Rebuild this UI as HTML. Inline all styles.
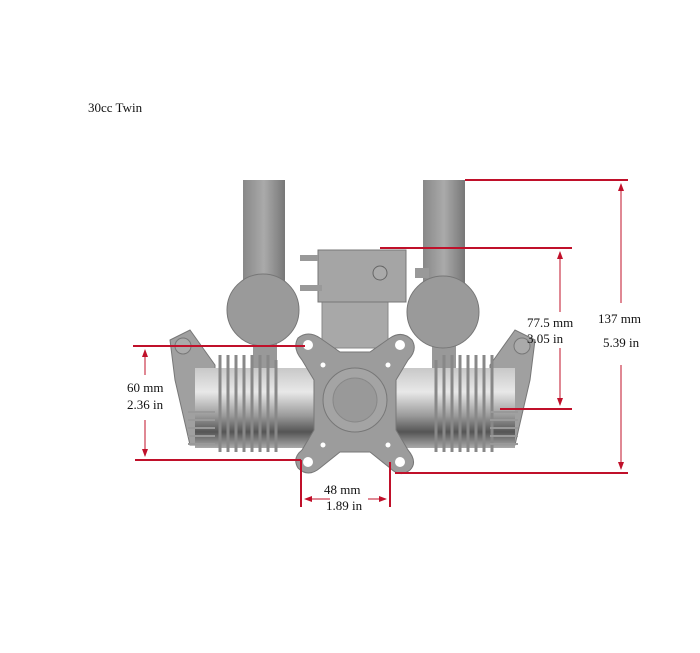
<!DOCTYPE html>
<html><head><style>
body{margin:0;background:#fff;}
svg{display:block;}
text{font-family:"Liberation Serif",serif;font-size:13px;fill:#111;}
</style></head><body>
<svg width="700" height="653" viewBox="0 0 700 653">
<defs>
<linearGradient id="cyl" x1="0" y1="0" x2="0" y2="1">
<stop offset="0" stop-color="#c8c8c8"/><stop offset="0.3" stop-color="#e8e8e8"/><stop offset="0.6" stop-color="#999"/><stop offset="0.8" stop-color="#555"/><stop offset="1" stop-color="#aaa"/></linearGradient>
<linearGradient id="pipe" x1="0" y1="0" x2="1" y2="0">
<stop offset="0" stop-color="#888"/><stop offset="0.5" stop-color="#aaa"/><stop offset="1" stop-color="#777"/></linearGradient>
<marker id="ar" markerWidth="8" markerHeight="8" refX="7" refY="4" orient="auto"><path d="M0,1 L8,4 L0,7z" fill="#c0102a"/></marker>
</defs>
<text x="88" y="112">30cc Twin</text>
<rect x="243" y="180" width="42" height="110" fill="url(#pipe)"/>
<rect x="423" y="180" width="42" height="110" fill="url(#pipe)"/>
<rect x="253" y="330" width="24" height="50" fill="#999"/>
<rect x="432" y="330" width="24" height="50" fill="#999"/>
<circle cx="263" cy="310" r="36" fill="#9a9a9a" stroke="#777"/>
<circle cx="443" cy="312" r="36" fill="#9a9a9a" stroke="#777"/>
<rect x="322" y="300" width="66" height="48" fill="#a8a8a8" stroke="#888"/>
<rect x="318" y="250" width="88" height="52" fill="#a5a5a5" stroke="#777"/>
<rect x="300" y="255" width="18" height="6" fill="#999"/>
<rect x="300" y="285" width="22" height="6" fill="#999"/>
<circle cx="380" cy="273" r="7" fill="#aaa" stroke="#666"/>
<rect x="415" y="268" width="14" height="10" fill="#999"/>
<path d="M170,340 L190,330 L215,365 L215,445 L190,445 L175,380z" fill="#a0a0a0" stroke="#777"/>
<path d="M535,340 L515,330 L490,365 L490,445 L515,445 L530,380z" fill="#a0a0a0" stroke="#777"/>
<circle cx="183" cy="346" r="8" fill="#aaa" stroke="#777"/>
<circle cx="522" cy="346" r="8" fill="#aaa" stroke="#777"/>
<rect x="195" y="368" width="320" height="80" fill="url(#cyl)"/>
<g stroke="#888" stroke-width="3">
<line x1="220" y1="355" x2="220" y2="452"/><line x1="228" y1="355" x2="228" y2="452"/><line x1="236" y1="355" x2="236" y2="452"/><line x1="244" y1="355" x2="244" y2="452"/><line x1="252" y1="355" x2="252" y2="452"/><line x1="260" y1="355" x2="260" y2="452"/><line x1="268" y1="355" x2="268" y2="452"/><line x1="276" y1="360" x2="276" y2="452"/>
<line x1="436" y1="360" x2="436" y2="452"/><line x1="444" y1="355" x2="444" y2="452"/><line x1="452" y1="355" x2="452" y2="452"/><line x1="460" y1="355" x2="460" y2="452"/><line x1="468" y1="355" x2="468" y2="452"/><line x1="476" y1="355" x2="476" y2="452"/><line x1="484" y1="355" x2="484" y2="452"/><line x1="492" y1="355" x2="492" y2="452"/>
</g>
<g stroke="#999" stroke-width="2">
<line x1="188" y1="412" x2="215" y2="412"/><line x1="188" y1="420" x2="215" y2="420"/><line x1="188" y1="428" x2="215" y2="428"/><line x1="188" y1="436" x2="215" y2="436"/><line x1="188" y1="444" x2="215" y2="444"/>
<line x1="490" y1="412" x2="518" y2="412"/><line x1="490" y1="420" x2="518" y2="420"/><line x1="490" y1="428" x2="518" y2="428"/><line x1="490" y1="436" x2="518" y2="436"/><line x1="490" y1="444" x2="518" y2="444"/>
</g>
<path d="M298,338 Q308,330 320,338 L340,352 L370,352 L390,338 Q402,330 412,340 Q418,350 408,360 L396,380 L396,430 L408,450 Q418,462 410,470 Q400,478 390,468 L370,452 L340,452 L320,468 Q308,478 298,468 Q292,458 302,450 L314,430 L314,380 L302,360 Q292,348 298,338z" fill="#9c9c9c" stroke="#777"/>
<circle cx="355" cy="400" r="32" fill="#a4a4a4" stroke="#777"/>
<circle cx="355" cy="400" r="22" fill="#999" stroke="#888"/>
<g fill="#fff"><circle cx="308" cy="345" r="5"/><circle cx="400" cy="345" r="5"/><circle cx="308" cy="462" r="5"/><circle cx="400" cy="462" r="5"/>
<circle cx="323" cy="365" r="2.5"/><circle cx="388" cy="365" r="2.5"/><circle cx="323" cy="445" r="2.5"/><circle cx="388" cy="445" r="2.5"/></g>
<g stroke="#c0102a" stroke-width="2" fill="none">
<line x1="465" y1="180" x2="628" y2="180"/>
<line x1="380" y1="248" x2="572" y2="248"/>
<line x1="133" y1="346" x2="305" y2="346"/>
<line x1="135" y1="460" x2="301" y2="460"/>
<line x1="301" y1="460" x2="301" y2="507"/>
<line x1="390" y1="462" x2="390" y2="507"/>
<line x1="395" y1="473" x2="628" y2="473"/>
<line x1="500" y1="409" x2="572" y2="409"/>
</g>
<g stroke="#c0102a" stroke-width="1" fill="none">
<line x1="621" y1="303" x2="621" y2="184" marker-end="url(#ar)"/>
<line x1="621" y1="365" x2="621" y2="469" marker-end="url(#ar)"/>
<line x1="560" y1="312" x2="560" y2="252" marker-end="url(#ar)"/>
<line x1="560" y1="348" x2="560" y2="405" marker-end="url(#ar)"/>
<line x1="145" y1="375" x2="145" y2="350" marker-end="url(#ar)"/>
<line x1="145" y1="420" x2="145" y2="456" marker-end="url(#ar)"/>
<line x1="330" y1="499" x2="305" y2="499" marker-end="url(#ar)"/>
<line x1="368" y1="499" x2="386" y2="499" marker-end="url(#ar)"/>
</g>
<text x="598" y="323">137 mm</text>
<text x="603" y="347">5.39 in</text>
<text x="527" y="327">77.5 mm</text>
<text x="527" y="343">3.05 in</text>
<text x="127" y="392">60 mm</text>
<text x="127" y="409">2.36 in</text>
<text x="324" y="494">48 mm</text>
<text x="326" y="510">1.89 in</text>
</svg>
</body></html>
